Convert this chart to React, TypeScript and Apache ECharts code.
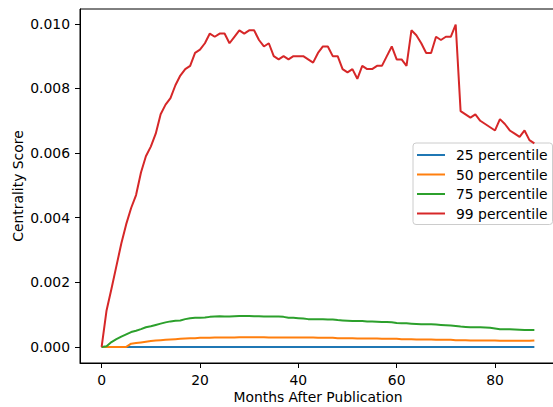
import React, { useEffect, useRef } from "react";
import * as echarts from "echarts";

const seriesNames = ["25 percentile", "50 percentile", "75 percentile", "99 percentile"];
const colors = ["#1f77b4", "#ff7f0e", "#2ca02c", "#d62728"];

const months: number[] = Array.from({ length: 89 }, (_, i) => i);

const p25: number[] = Array.from({ length: 89 }, () => 0);

const p50: number[] = [
  0, 0, 0, 0, 0, 0, 0.0001, 0.00012, 0.00014, 0.00016,
  0.00018, 0.0002, 0.00021, 0.00022, 0.00023, 0.00024, 0.00025, 0.00026, 0.00027, 0.00027,
  0.00028, 0.00028, 0.00028, 0.00029, 0.00029, 0.00029, 0.00029, 0.00029, 0.0003, 0.0003,
  0.0003, 0.0003, 0.0003, 0.0003, 0.00029, 0.00029, 0.00029, 0.00029, 0.00029, 0.00029,
  0.00029, 0.00029, 0.00029, 0.00029, 0.00028, 0.00028, 0.00028, 0.00028, 0.00027, 0.00027,
  0.00027, 0.00027, 0.00026, 0.00026, 0.00026, 0.00026, 0.00026, 0.00025, 0.00025, 0.00025,
  0.00025, 0.00024, 0.00024, 0.00024, 0.00023, 0.00023, 0.00023, 0.00023, 0.00022, 0.00022,
  0.00022, 0.00022, 0.00021, 0.00021, 0.00021, 0.0002, 0.0002, 0.0002, 0.0002, 0.0002,
  0.0002, 0.00019, 0.00019, 0.00019, 0.00019, 0.00019, 0.00019, 0.00019, 0.0002,
];

const p75: number[] = [
  0, 0.00002, 0.00015, 0.00024, 0.00032, 0.00039, 0.00046, 0.0005, 0.00055, 0.00061,
  0.00064, 0.00068, 0.00072, 0.00076, 0.00079, 0.00081, 0.00082, 0.00086, 0.00089, 0.0009,
  0.0009, 0.00091, 0.00093, 0.00094, 0.00095, 0.00094, 0.00094, 0.00095, 0.00096, 0.00096,
  0.00096, 0.00095, 0.00095, 0.00094, 0.00094, 0.00094, 0.00094, 0.00093, 0.0009, 0.0009,
  0.00089, 0.00088, 0.00086, 0.00086, 0.00086, 0.00086, 0.00085, 0.00085, 0.00083, 0.00082,
  0.00081, 0.0008, 0.0008, 0.0008, 0.00079, 0.00079, 0.00078, 0.00077, 0.00077, 0.00076,
  0.00074, 0.00073, 0.00073, 0.00072, 0.00071, 0.0007, 0.0007, 0.0007, 0.00069, 0.00068,
  0.00067, 0.00066, 0.00065, 0.00063, 0.00062, 0.00061, 0.00061, 0.00061, 0.0006, 0.00059,
  0.00057, 0.00055, 0.00055, 0.00055, 0.00054, 0.00053, 0.00052, 0.00052, 0.00052,
];

const p99: number[] = [
  0, 0.00113, 0.0018, 0.0025, 0.0032, 0.0038, 0.0043, 0.0047, 0.0054, 0.0059,
  0.0062, 0.0066, 0.0072, 0.0075, 0.0077, 0.0081, 0.0084, 0.0086, 0.0087, 0.0091,
  0.0092, 0.0094, 0.0097, 0.0096, 0.0097, 0.0097, 0.0094, 0.0096, 0.0098, 0.0097,
  0.0098, 0.0098, 0.0095, 0.0093, 0.0094, 0.009, 0.0089, 0.009, 0.0089, 0.009,
  0.009, 0.009, 0.0089, 0.0088, 0.0091, 0.0093, 0.0093, 0.009, 0.009, 0.0086,
  0.0085, 0.0086, 0.0083, 0.0087, 0.0086, 0.0086, 0.0087, 0.0087, 0.009, 0.0093,
  0.0089, 0.0089, 0.0087, 0.0098, 0.00965, 0.0094, 0.0091, 0.0091, 0.0096, 0.0095,
  0.0096, 0.0096, 0.00998, 0.0073, 0.0072, 0.0071, 0.0072, 0.007, 0.0069, 0.0068,
  0.0067, 0.00705, 0.0069, 0.0067, 0.0066, 0.0065, 0.0067, 0.0064, 0.0063,
];

const xTicks: number[] = [0, 20, 40, 60, 80];
const yTicks: number[] = [0, 0.002, 0.004, 0.006, 0.008, 0.01];

const allSeries = [p25, p50, p75, p99];

const FONT = "DejaVu Sans";
const FS = 13.9;

export default function App() {
  const ref = useRef<HTMLDivElement>(null);
  useEffect(() => {
    if (!ref.current) return;
    const chart = echarts.init(ref.current, null, { renderer: "svg" });
    chart.setOption({
      animation: false,
      backgroundColor: "#ffffff",
      textStyle: { fontFamily: FONT },
      grid: {
        left: 80,
        top: 9,
        width: 476,
        height: 354,
        show: true,
        borderColor: "#000",
        borderWidth: 1,
        backgroundColor: "transparent",
        containLabel: false,
        outerBoundsMode: "none",
      },
      xAxis: {
        type: "value",
        min: -4.4,
        max: 92.4,
        name: "Months After Publication",
        nameLocation: "middle",
        nameGap: 27,
        nameMoveOverlap: false,
        nameTextStyle: { fontSize: FS, color: "#000", fontFamily: FONT },
        axisLine: { show: true, onZero: false, lineStyle: { color: "#000", width: 1 } },
        axisTick: { show: true, length: 5, customValues: xTicks, lineStyle: { color: "#000" } },
        axisLabel: {
          customValues: xTicks,
          fontSize: FS,
          color: "#000",
          margin: 10,
          fontFamily: FONT,
        },
        splitLine: { show: false },
      },
      yAxis: {
        type: "value",
        min: -0.000498,
        max: 0.01046,
        name: "Centrality Score",
        nameLocation: "middle",
        nameGap: 55,
        nameMoveOverlap: false,
        nameTextStyle: { fontSize: FS, color: "#000", fontFamily: FONT },
        axisLine: { show: true, onZero: false, lineStyle: { color: "#000", width: 1 } },
        axisTick: { show: true, length: 5, customValues: yTicks, lineStyle: { color: "#000" } },
        axisLabel: {
          customValues: yTicks,
          fontSize: FS,
          color: "#000",
          margin: 10,
          fontFamily: FONT,
          formatter: (v: number) => v.toFixed(3),
        },
        splitLine: { show: false },
      },
      legend: {
        orient: "vertical",
        left: 413,
        top: 143,
        icon: "rect",
        itemWidth: 28,
        itemHeight: 2,
        itemGap: 5.5,
        padding: [5, 5, 4, 4],
        backgroundColor: "rgba(255,255,255,0.8)",
        borderColor: "#cccccc",
        borderWidth: 1,
        borderRadius: 3,
        textStyle: {
          fontSize: FS,
          color: "#000",
          fontFamily: FONT,
          lineHeight: 14,
          padding: [0, 0, 0, 6],
        },
        data: seriesNames,
      },
      series: allSeries.map((vals, i) => ({
        name: seriesNames[i],
        type: "line",
        data: months.map((m, j) => [m, vals[j]]),
        showSymbol: false,
        symbol: "none",
        lineStyle: { color: colors[i], width: 2 },
        itemStyle: { color: colors[i] },
        z: 2 + i,
      })),
    });
    return () => chart.dispose();
  }, []);
  return (
    <div
      ref={ref}
      style={{ position: "fixed", left: 0, top: 0, width: 553, height: 407, background: "#fff" }}
    />
  );
}
